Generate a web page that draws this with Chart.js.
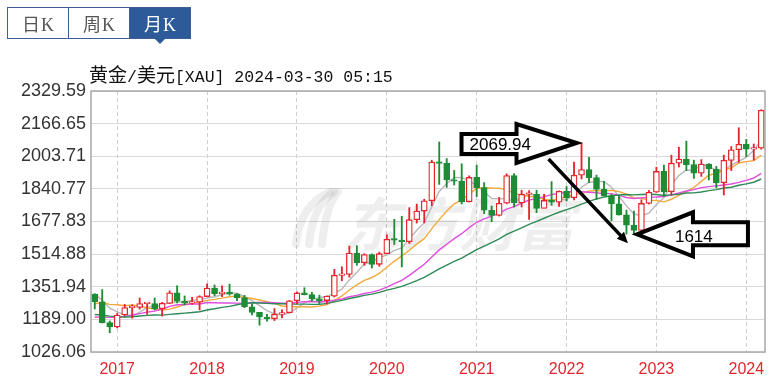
<!DOCTYPE html>
<html>
<head>
<meta charset="utf-8">
<script src="https://cdn.jsdelivr.net/npm/chart.js@4.4.1/dist/chart.umd.min.js"></script>
<style>
  body { margin: 0; background: #fff; width: 777px; height: 382px; overflow: hidden; position: relative; }
  #c { position: absolute; left: 0; top: 0; }
  #tabs { position: absolute; left: 7px; top: 7px; width: 184px; height: 32px; display: flex; border: 1px solid #3d6094; box-sizing: border-box; }
  .tab { flex: 1; text-align: center; line-height: 30px; font-size: 18px; color: #555; font-family: "Noto Sans CJK SC", sans-serif; }
  .tab + .tab { border-left: 1px solid #3d6094; }
  .tab.on { background: #2d5a98; color: #fff; }
  .k { font-family: "Liberation Serif", serif; font-size: 18px; margin-left: 1px; }
  #caret { position: absolute; left: 154px; top: 38px; width: 0; height: 0; border-left: 6px solid transparent; border-right: 6px solid transparent; border-top: 6px solid #2d5a98; }
  #title { position: absolute; left: 89px; top: 64px; font-size: 19px; line-height: 20px; color: #111; white-space: nowrap; font-family: "Noto Sans CJK SC", sans-serif; }
  #title .m { font-family: "Liberation Mono", monospace; font-size: 16.5px; }
</style>
</head>
<body>
<canvas id="c" width="777" height="382"></canvas>
<div id="tabs">
  <div class="tab">日<span class="k">K</span></div>
  <div class="tab">周<span class="k">K</span></div>
  <div class="tab on">月<span class="k">K</span></div>
</div>
<div id="caret"></div>
<div id="title">黄金<span class="m">/</span>美元<span class="m">[XAU] 2024-03-30 05:15</span></div>
<script>
// monthly candles, Oct 2016 .. Mar 2024
const months = [
  "2016-10","2016-11","2016-12",
  "2017-01","2017-02","2017-03","2017-04","2017-05","2017-06","2017-07","2017-08","2017-09","2017-10","2017-11","2017-12",
  "2018-01","2018-02","2018-03","2018-04","2018-05","2018-06","2018-07","2018-08","2018-09","2018-10","2018-11","2018-12",
  "2019-01","2019-02","2019-03","2019-04","2019-05","2019-06","2019-07","2019-08","2019-09","2019-10","2019-11","2019-12",
  "2020-01","2020-02","2020-03","2020-04","2020-05","2020-06","2020-07","2020-08","2020-09","2020-10","2020-11","2020-12",
  "2021-01","2021-02","2021-03","2021-04","2021-05","2021-06","2021-07","2021-08","2021-09","2021-10","2021-11","2021-12",
  "2022-01","2022-02","2022-03","2022-04","2022-05","2022-06","2022-07","2022-08","2022-09","2022-10","2022-11","2022-12",
  "2023-01","2023-02","2023-03","2023-04","2023-05","2023-06","2023-07","2023-08","2023-09","2023-10","2023-11","2023-12",
  "2024-01","2024-02","2024-03"
];

const opens = [
  1315,1277,1173,
  1151,1211,1248,1249,1268,1268,1242,1269,1322,1280,1270,1275,
  1303,1345,1318,1325,1315,1298,1252,1224,1201,1192,1215,1222,
  1282,1321,1313,1292,1283,1305,1409,1413,1520,1472,1513,1464,
  1517,1589,1585,1577,1687,1730,1781,1975,1968,1886,1879,1776,
  1898,1847,1734,1708,1769,1907,1770,1814,1814,1743,1783,1774,
  1829,1797,1909,1937,1897,1838,1807,1766,1711,1660,1633,1768,
  1824,1928,1826,1969,1990,1962,1919,1965,1940,1871,1983,2036,
  2063,2039,2044
];
const highs = [
  1317,1338,1181,
  1220,1264,1262,1296,1270,1296,1274,1331,1357,1306,1299,1307,
  1366,1361,1356,1365,1318,1309,1266,1224,1214,1243,1237,1284,
  1326,1347,1324,1310,1306,1439,1452,1555,1557,1517,1516,1525,
  1611,1689,1704,1747,1765,1789,1984,2075,1992,1933,1966,1906,
  1959,1872,1755,1798,1916,1917,1834,1832,1834,1814,1877,1831,
  1853,1974,2070,1998,1910,1879,1814,1807,1735,1730,1786,1833,
  1949,1960,2009,2049,2079,1984,1987,1967,1953,2009,2052,2146,
  2088,2065,2236
];
const lows = [
  1241,1171,1122,
  1146,1207,1195,1240,1214,1236,1205,1267,1271,1261,1264,1236,
  1302,1307,1303,1310,1282,1247,1211,1160,1180,1183,1196,1221,
  1266,1311,1281,1266,1266,1301,1382,1400,1459,1459,1445,1454,
  1517,1563,1451,1568,1670,1671,1757,1863,1848,1860,1765,1775,
  1802,1717,1677,1705,1766,1750,1750,1688,1722,1746,1759,1753,
  1780,1786,1890,1872,1787,1805,1681,1709,1615,1618,1616,1765,
  1823,1804,1810,1950,1932,1893,1903,1885,1846,1810,1932,1973,
  2002,1984,2039
];
const closes = [
  1277,1173,1151,
  1211,1248,1249,1268,1268,1242,1269,1322,1280,1270,1275,1303,
  1345,1318,1325,1315,1298,1252,1224,1201,1192,1215,1222,1282,
  1321,1313,1292,1283,1305,1409,1413,1520,1472,1513,1464,1517,
  1589,1585,1577,1687,1730,1781,1975,1968,1886,1879,1776,1898,
  1847,1734,1708,1769,1907,1770,1814,1814,1743,1783,1774,1829,
  1797,1909,1937,1897,1838,1807,1766,1711,1660,1633,1768,1824,
  1928,1826,1969,1990,1962,1919,1965,1940,1871,1983,2036,2063,
  2039,2044,2233
];

// moving average lines
const ma5 = [
  1315,1285,1245,1226,1212,1206,1225,1249,1255,1259,
  1274,1276,1277,1283,1290,1295,1302,1313,1321,1320,
  1302,1283,1258,1233,1217,1211,1222,1246,1271,1286,
  1298,1303,1320,1340,1386,1424,1465,1476,1497,1511,
  1534,1546,1591,1634,1672,1750,1828,1868,1898,1897,
  1881,1857,1827,1793,1791,1793,1778,1794,1815,1810,
  1785,1786,1789,1785,1818,1849,1874,1876,1878,1849,
  1804,1756,1715,1708,1719,1763,1796,1863,1907,1935,
  1933,1961,1955,1931,1936,1959,1979,1998,2033,2083
];
const ma10 = [
  1267,1273,1264,1262,1257,1261,1255,1247,1240,1236,
  1240,1251,1263,1269,1275,1284,1289,1295,1302,1305,
  1298,1293,1286,1277,1269,1256,1253,1252,1252,1251,
  1255,1263,1283,1306,1336,1361,1384,1398,1419,1449,
  1479,1506,1534,1565,1592,1642,1687,1730,1766,1784,
  1816,1843,1847,1845,1844,1837,1817,1810,1804,1800,
  1789,1782,1791,1800,1814,1817,1830,1832,1831,1834,
  1827,1815,1796,1793,1784,1783,1776,1789,1808,1827,
  1848,1878,1909,1919,1935,1946,1970,1977,1982,2009
];
const ma20 = [
  1201,1200,1199,1200,1203,1211,1218,1225,1230,1241,
  1254,1262,1263,1266,1266,1273,1272,1271,1271,1270,
  1269,1272,1274,1273,1272,1270,1271,1274,1277,1278,
  1276,1278,1285,1291,1302,1309,1318,1325,1335,1350,
  1367,1384,1409,1436,1464,1501,1536,1564,1592,1617,
  1647,1674,1691,1705,1718,1740,1752,1770,1785,1792,
  1802,1812,1819,1823,1829,1827,1824,1821,1818,1817,
  1808,1798,1793,1796,1799,1800,1803,1811,1820,1830,
  1837,1847,1852,1856,1860,1865,1873,1883,1895,1918
];
const ma30 = [
  1213,1211,1205,1202,1201,1202,1206,1209,1211,1210,
  1214,1217,1220,1223,1227,1236,1242,1249,1254,1262,
  1269,1272,1271,1269,1267,1267,1266,1265,1265,1264,
  1264,1269,1277,1284,1293,1301,1309,1315,1324,1335,
  1344,1354,1368,1383,1399,1420,1441,1460,1479,1495,
  1516,1537,1555,1572,1591,1613,1630,1646,1663,1678,
  1694,1710,1724,1737,1750,1765,1778,1791,1800,1806,
  1810,1813,1811,1813,1814,1813,1808,1811,1814,1820,
  1821,1825,1832,1837,1845,1849,1859,1866,1874,1890
];

const yTicks = [1026.06, 1189.00, 1351.94, 1514.88, 1677.83, 1840.77, 2003.71, 2166.65, 2329.59];

const highNote = { month: "2022-03", value: 2069.94, text: "2069.94" };
const lowNote = { month: "2022-10", value: 1614, text: "1614" };

const RED = "#e3262e";
const GREEN = "#1d8c35";

const isUp = closes.map((c, i) => c >= opens[i]);
const candleColors = isUp.map(u => u ? RED : GREEN);
const bodyFill = isUp.map(u => u ? "#ffffff" : GREEN);
const wicks = lows.map((l, i) => [l, highs[i]]);
const bodies = opens.map((o, i) => [Math.min(o, closes[i]), Math.max(o, closes[i])]);
const isJan = i => months[i] && months[i].endsWith("-01");

function blockArrow(ctx, pts) {
  ctx.beginPath();
  pts.forEach((p, i) => i ? ctx.lineTo(p[0], p[1]) : ctx.moveTo(p[0], p[1]));
  ctx.closePath();
  ctx.fillStyle = "#fff";
  ctx.fill();
  ctx.lineWidth = 4;
  ctx.lineJoin = "miter";
  ctx.strokeStyle = "#000";
  ctx.stroke();
}

const overlay = {
  id: "overlay",
  beforeDatasetsDraw(chart) {
    // faint watermark
    const ctx = chart.ctx;
    ctx.save();
    ctx.fillStyle = "rgba(0,0,0,0.065)";
    ctx.strokeStyle = "rgba(0,0,0,0.065)";
    ctx.font = 'italic bold 58px "Noto Sans CJK SC"';
    ctx.textBaseline = "alphabetic";
    ctx.fillText("东方财富", 343, 246);
    ctx.lineWidth = 8;
    ctx.lineCap = "round";
    for (let k = 0; k < 3; k++) {
      ctx.beginPath();
      ctx.moveTo(296 + k * 13, 244);
      ctx.quadraticCurveTo(300 + k * 13, 205, 330 + k * 4, 192);
      ctx.stroke();
    }
    ctx.restore();
  },
  afterDraw(chart) {
    const ctx = chart.ctx;
    const a = chart.chartArea;
    const xs = chart.scales.x, ys = chart.scales.y;
    ctx.save();
    ctx.strokeStyle = "#a8a8a8";
    ctx.lineWidth = 1.5;
    ctx.strokeRect(a.left, a.top, a.right - a.left, a.bottom - a.top);

    // high arrow pointing right at the peak
    const t1x = xs.getPixelForValue(months.indexOf(highNote.month)) - 5;
    const t1y = ys.getPixelForValue(highNote.value);
    blockArrow(ctx, [[t1x, t1y], [t1x - 60, t1y - 19], [t1x - 60, t1y - 9], [t1x - 115, t1y - 9],
      [t1x - 115, t1y + 11], [t1x - 60, t1y + 11], [t1x - 60, t1y + 20]]);

    // low arrow pointing left at the trough
    const t2x = xs.getPixelForValue(months.indexOf(lowNote.month)) + 3;
    const t2y = ys.getPixelForValue(lowNote.value);
    blockArrow(ctx, [[t2x, t2y], [t2x + 56, t2y - 22], [t2x + 56, t2y - 12], [t2x + 111, t2y - 12],
      [t2x + 111, t2y + 11], [t2x + 56, t2y + 11], [t2x + 56, t2y + 22]]);

    ctx.fillStyle = "#000";
    ctx.font = '17px "Liberation Sans"';
    ctx.textBaseline = "middle";
    ctx.fillText(highNote.text, t1x - 107, t1y + 2);
    ctx.fillText(lowNote.text, t2x + 38, t2y + 3);

    // diagonal pointer
    const sx = t1x - 28, sy = t1y + 16;
    const ex = t2x - 9, ey = t2y + 9;
    const ang = Math.atan2(ey - sy, ex - sx);
    ctx.lineWidth = 3.5;
    ctx.lineCap = "butt";
    ctx.beginPath();
    ctx.moveTo(sx, sy);
    ctx.lineTo(ex - 6 * Math.cos(ang), ey - 6 * Math.sin(ang));
    ctx.stroke();
    ctx.beginPath();
    ctx.moveTo(ex, ey);
    ctx.lineTo(ex - 11 * Math.cos(ang) + 5 * Math.sin(ang), ey - 11 * Math.sin(ang) - 5 * Math.cos(ang));
    ctx.lineTo(ex - 11 * Math.cos(ang) - 5 * Math.sin(ang), ey - 11 * Math.sin(ang) + 5 * Math.cos(ang));
    ctx.closePath();
    ctx.fill();
    ctx.restore();
  }
};

const maLine = (data, color) => ({
  type: "line", data, borderColor: color, borderWidth: 1.4, pointRadius: 0, tension: 0, order: 3
});

new Chart(document.getElementById("c"), {
  type: "bar",
  data: {
    labels: months,
    datasets: [
      maLine(ma30, "#2f8a58"),
      maLine(ma20, "#e04ee0"),
      maLine(ma10, "#f2aa3c"),
      maLine(ma5, "#b8b8b8"),
      { data: wicks, backgroundColor: candleColors, barThickness: 1.2, grouped: false, order: 2 },
      { data: bodies, backgroundColor: bodyFill, borderColor: candleColors, borderWidth: 1.3,
        borderSkipped: false, barThickness: 6, minBarLength: 1.5, grouped: false, order: 1 }
    ]
  },
  options: {
    responsive: false,
    animation: false,
    layout: { padding: { left: 0, right: 12, top: 91, bottom: 0 } },
    plugins: { legend: { display: false }, tooltip: { enabled: false } },
    scales: {
      x: {
        offset: true,
        grid: { offset: false, drawTicks: false, color: c => isJan(c.index) ? "#cfcfcf" : "transparent" },
        border: { display: false, dash: [4, 3] },
        ticks: {
          autoSkip: false, maxRotation: 0, padding: 8, color: RED,
          font: { size: 16, family: "Liberation Sans" },
          callback: (v, i) => isJan(i) ? months[i].slice(0, 4) : ""
        },
        afterFit: s => { s.height = 30; }
      },
      y: {
        min: yTicks[0],
        max: yTicks[yTicks.length - 1],
        afterBuildTicks: s => { s.ticks = yTicks.map(v => ({ value: v })); },
        grid: { color: "#d9d9d9", drawTicks: false },
        border: { display: false },
        ticks: { padding: 5, color: "#333", font: { size: 18, family: "Liberation Sans" }, callback: v => v.toFixed(2) },
        afterFit: s => { s.width = 91; }
      }
    }
  },
  plugins: [overlay]
});
</script>
</body>
</html>
